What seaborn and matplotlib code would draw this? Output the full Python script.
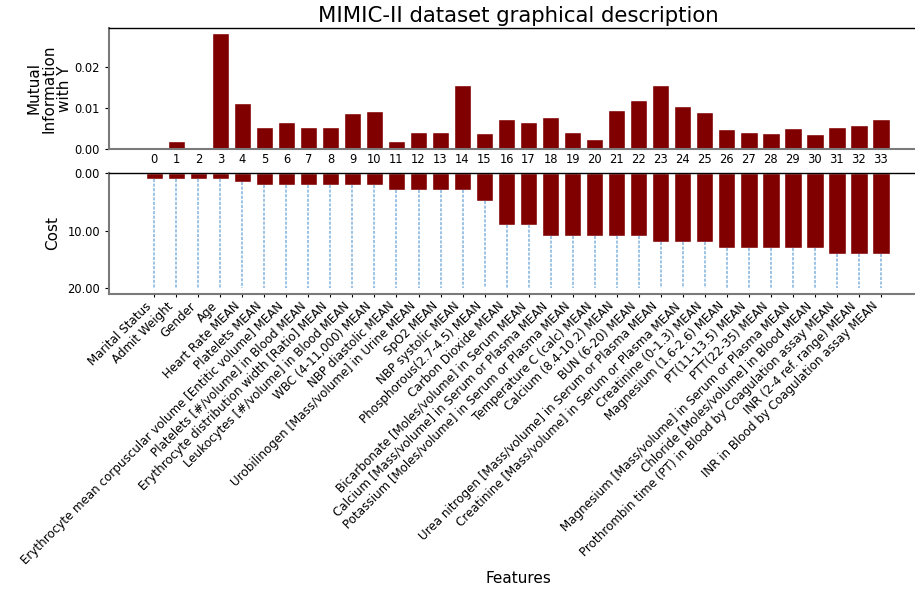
import matplotlib
matplotlib.use("Agg")
import matplotlib.pyplot as plt
import seaborn as sns
import numpy as np
import pandas as pd

features = [
    "Marital Status", "Admit Weight", "Gender", "Age", "Heart Rate MEAN",
    "Platelets MEAN",
    "Erythrocyte mean corpuscular volume [Entitic volume] MEAN",
    "Platelets [#/volume] in Blood MEAN",
    "Erythrocyte distribution width [Ratio] MEAN",
    "Leukocytes [#/volume] in Blood MEAN",
    "WBC (4-11,000) MEAN", "NBP diastolic MEAN",
    "Urobilinogen [Mass/volume] in Urine MEAN", "SpO2 MEAN",
    "NBP systolic MEAN", "Phosphorous(2.7-4.5) MEAN", "Carbon Dioxide MEAN",
    "Bicarbonate [Moles/volume] in Serum MEAN",
    "Calcium [Mass/volume] in Serum or Plasma MEAN",
    "Potassium [Moles/volume] in Serum or Plasma MEAN",
    "Temperature C (calc) MEAN", "Calcium (8.4-10.2) MEAN", "BUN (6-20) MEAN",
    "Urea nitrogen [Mass/volume] in Serum or Plasma MEAN",
    "Creatinine [Mass/volume] in Serum or Plasma MEAN",
    "Creatinine (0-1.3) MEAN", "Magnesium (1.6-2.6) MEAN", "PT(11-13.5) MEAN",
    "PTT(22-35) MEAN",
    "Magnesium [Mass/volume] in Serum or Plasma MEAN",
    "Chloride [Moles/volume] in Blood MEAN",
    "Prothrombin time (PT) in Blood by Coagulation assay MEAN",
    "INR (2-4 ref. range) MEAN",
    "INR in Blood by Coagulation assay MEAN",
]

mutual_info = [
    0.0, 0.0020, 0.0, 0.0283, 0.0111, 0.0054, 0.0066, 0.0054, 0.0054, 0.0088,
    0.0093, 0.0020, 0.0042, 0.0042, 0.0157, 0.0039, 0.0074, 0.0066, 0.0079,
    0.0042, 0.0025, 0.0096, 0.0120, 0.0157, 0.0106, 0.0091, 0.0049, 0.0042,
    0.0039, 0.0052, 0.0037, 0.0054, 0.0059, 0.0074,
]

cost = [
    1, 1, 1, 1, 1.5, 2, 2, 2, 2, 2, 2, 3, 3, 3, 3, 4.8, 9, 9, 11, 11, 11, 11,
    11, 12, 12, 12, 13, 13, 13, 13, 13, 14, 14, 14,
]

max_cost = 20

df = pd.DataFrame({
    "idx": np.arange(len(features)),
    "mi": mutual_info,
    "cost": cost,
})

sns.set_style("ticks")
plt.rcParams["font.family"] = ["DejaVu Sans"]
plt.rcParams["text.color"] = "black"
plt.rcParams["axes.labelcolor"] = "black"
plt.rcParams["xtick.color"] = "black"
plt.rcParams["ytick.color"] = "black"

bar_color = "#800000"
spine_grey = "#7a7a7a"
tick_fs = 8.3
xlab_fs = 8.6
label_fs = 11

fig = plt.figure(figsize=(9.15, 5.9), dpi=100)
W, H = 915, 590
left = 109 / W
width = (927 - 109) / W
ax1 = fig.add_axes([left, 1 - 149 / H, width, 121 / H])
ax2 = fig.add_axes([left, 1 - 294 / H, width, 121 / H])

# Upper panel: mutual information of each feature with the target
sns.barplot(data=df, x="idx", y="mi", ax=ax1, color=bar_color,
            saturation=1, width=0.8, order=list(df["idx"]))
ax1.set_xlim(-2.06, 35.1)
ax1.set_ylim(0, 0.0295)
ax1.set_yticks([0.0, 0.01, 0.02])
ax1.set_yticklabels([f"{v:.2f}" for v in [0.0, 0.01, 0.02]])
ax1.set_xticks(df["idx"])
ax1.set_xticklabels([str(i) for i in df["idx"]])
ax1.tick_params(axis="x", length=0, pad=3, labelsize=tick_fs)
ax1.tick_params(axis="y", length=3, labelsize=tick_fs)
ax1.set_xlabel("")
ax1.set_ylabel("Mutual\nInformation\nwith Y", fontsize=label_fs,
               labelpad=2, linespacing=1.0)
ax1.set_title("MIMIC-II dataset graphical description", fontsize=15.3, pad=4)

# Lower panel: acquisition cost, drawn downwards
sns.barplot(data=df, x="idx", y="cost", ax=ax2, color=bar_color,
            saturation=1, width=0.8, order=list(df["idx"]))
ax2.vlines(df["idx"], df["cost"], max_cost, colors="#6aa6d6", alpha=0.85,
           linestyles=(0, (2, 1)), linewidth=1.1)
ax2.set_xlim(-2.06, 35.1)
ax2.set_ylim(21, 0)
ax2.set_yticks([0, 10, 20])
ax2.set_yticklabels([f"{v:.2f}" for v in [0, 10, 20]])
ax2.set_xticks(df["idx"])
ax2.set_xticklabels(features, rotation=45, ha="right")
ax2.tick_params(axis="x", length=2, pad=2, labelsize=xlab_fs)
ax2.tick_params(axis="y", length=3, labelsize=tick_fs)
ax2.set_ylabel("Cost", fontsize=label_fs, labelpad=5)
ax2.set_xlabel("Features", fontsize=label_fs, labelpad=3)

for ax in (ax1, ax2):
    ax.spines["right"].set_visible(False)
    ax.spines["top"].set_visible(True)
    ax.spines["top"].set_color("black")
    ax.spines["top"].set_linewidth(1.0)
    for side in ("left", "bottom"):
        ax.spines[side].set_color(spine_grey)
        ax.spines[side].set_linewidth(1.5)

fig.savefig("out.png", dpi=100)
